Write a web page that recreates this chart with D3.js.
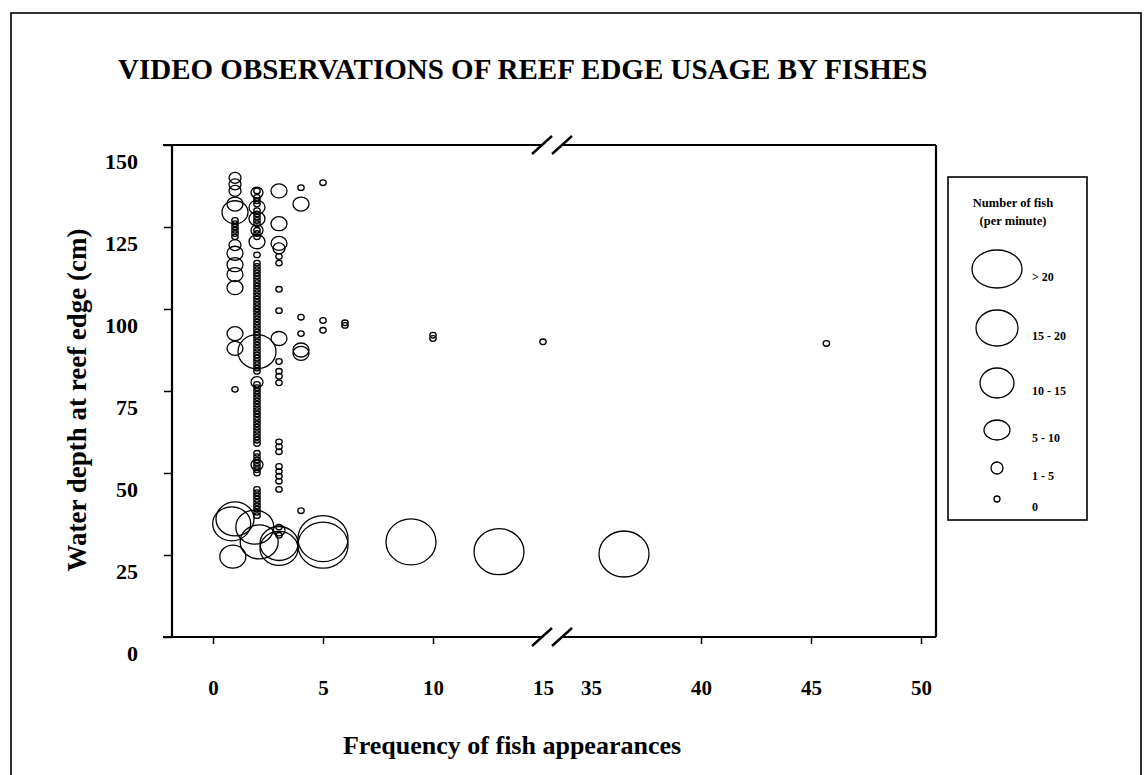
<!DOCTYPE html>
<html>
<head>
<meta charset="utf-8">
<script src="https://cdn.jsdelivr.net/npm/d3@7"></script>
<style>
  html, body { margin: 0; padding: 0; background: #fff; }
  svg { display: block; font-family: 'Liberation Serif', 'Times New Roman', serif; }
</style>
</head>
<body>
<svg id="chart" width="1144" height="775"></svg>
<script>
// size classes used for the bubbles (number of fish per minute)
const sizeClasses = ['0', '1 - 5', '5 - 10', '10 - 15', '15 - 20', '> 20'];
const yTickValues = [0, 25, 50, 75, 100, 125, 150];
const xTicksLow = [0, 5, 10, 15];
const xTicksHigh = [35, 40, 45, 50];

// observations grouped by frequency of fish appearances (depth in cm, size class index)
const depthF1 = [140, 138, 136, 132, 129.5, 127, 126, 125, 124, 123, 122, 119.5, 117, 113.5, 110.5, 106.5, 92.5, 88, 75.5];
const sizeF1 = [1, 1, 1, 2, 3, 0, 0, 0, 0, 0, 0, 1, 2, 2, 2, 2, 2, 2, 0];

const depthF2 = [136, 135.5, 134, 133, 132, 131, 130, 129, 128, 127.5, 127, 126, 124, 124, 123, 122, 120.5, 116.5,
  114, 113, 112, 111, 110, 109, 108, 107, 106, 105, 104, 103, 102, 101, 100, 99, 98, 97, 96, 95, 94, 93, 92, 91, 90,
  89, 88, 87, 87, 86, 85, 84, 83, 82, 81, 77.7, 77, 76, 75, 74, 73, 72, 71, 70, 69, 68, 67, 66, 65, 64, 63, 62, 61,
  60, 59, 56, 55, 54, 53, 52.5, 52, 51, 50, 45, 44, 43, 42, 41, 40, 39, 38, 37];
const sizeF2 = [0, 1, 0, 0, 0, 2, 0, 0, 0, 2, 0, 0, 0, 1, 0, 0, 2, 0,
  0, 0, 0, 0, 0, 0, 0, 0, 0, 0, 0, 0, 0, 0, 0, 0, 0, 0, 0, 0, 0, 0, 0, 0, 0,
  0, 0, 0, 4, 0, 0, 0, 0, 0, 0, 1, 0, 0, 0, 0, 0, 0, 0, 0, 0, 0, 0, 0, 0, 0, 0, 0, 0,
  0, 0, 0, 0, 0, 0, 1, 0, 0, 0, 0, 0, 0, 0, 0, 0, 0, 0, 0];

const depthF3 = [136, 126, 120, 118.5, 116, 114, 106, 99.5, 91, 84, 81, 79.5, 77.5, 59.5, 58, 56.5, 52, 50.5, 49, 47.5, 45, 33.5, 32.5, 31];
const sizeF3 = [2, 2, 2, 1, 0, 0, 0, 0, 2, 0, 0, 0, 0, 0, 0, 0, 0, 0, 0, 0, 0, 0, 1, 0];

const depthF4 = [137, 132, 97.5, 92.5, 87.5, 86.5, 38.5];
const sizeF4 = [0, 2, 0, 0, 2, 2, 0];

const depthF5 = [138.5, 96.5, 93.5];
const sizeF5 = [0, 0, 0];

const depthF6 = [95.8, 95];
const sizeF6 = [0, 0];

const depthF10 = [92, 91];
const sizeF10 = [0, 0];

const depthF15 = [90];
const sizeF15 = [0];

const depthF45 = [89.5];
const sizeF45 = [0];

// the large schools near the reef base
const bigFreq = [0.85, 1, 0.9, 1.9, 2.1, 3, 3, 5, 5, 9, 13, 36.5];
const bigDepth = [34.5, 36, 24.5, 33.5, 29, 28.5, 27, 30, 28, 29, 26, 25.3];
const bigSize = [4, 4, 3, 4, 4, 4, 4, 5, 5, 5, 5, 5];

const columns = [
  { freq: 1, depths: depthF1, sizes: sizeF1 },
  { freq: 2, depths: depthF2, sizes: sizeF2 },
  { freq: 3, depths: depthF3, sizes: sizeF3 },
  { freq: 4, depths: depthF4, sizes: sizeF4 },
  { freq: 5, depths: depthF5, sizes: sizeF5 },
  { freq: 6, depths: depthF6, sizes: sizeF6 },
  { freq: 10, depths: depthF10, sizes: sizeF10 },
  { freq: 15, depths: depthF15, sizes: sizeF15 },
  { freq: 45.7, depths: depthF45, sizes: sizeF45 },
];

const points = [];
columns.forEach(col => {
  col.depths.forEach((d, i) => points.push({ freq: col.freq, depth: d, size: col.sizes[i] }));
});
bigFreq.forEach((f, i) => points.push({ freq: f, depth: bigDepth[i], size: bigSize[i] }));

// layout
const plot = { left: 172, right: 936, top: 145, bottom: 637 };
const breakAt = [542, 562];
const plotRx = [3.2, 6, 8, 13, 19, 25];
const plotRy = [2.8, 5.5, 7, 11.5, 17, 23];
const legendRx = [3, 6, 13, 17, 21, 25];
const legendRy = [3, 6, 10, 15, 18, 19];

const svg = d3.select('#chart');

const xLow = d3.scaleLinear().domain([0, 15]).range([213, 543]);
const xHigh = d3.scaleLinear().domain([35, 50]).range([591, 921]);
const xPos = f => (f < 25 ? xLow(f) : xHigh(f));
const y = d3.scaleLinear().domain([0, 150]).range([plot.bottom, plot.top]);

// outer frame
svg.append('rect')
  .attr('x', 11).attr('y', 13)
  .attr('width', 1130).attr('height', 800)
  .attr('fill', 'none').attr('stroke', '#000').attr('stroke-width', 1.6);

svg.append('text')
  .attr('x', 118).attr('y', 79)
  .attr('font-size', 29).attr('font-weight', 'bold')
  .text('VIDEO OBSERVATIONS OF REEF EDGE USAGE BY FISHES');

// y axis
const yAxis = svg.append('g')
  .attr('transform', `translate(${plot.left},0)`)
  .call(d3.axisLeft(y).tickValues(yTickValues).tickSize(8).tickPadding(26));
yAxis.select('.domain').remove();
yAxis.selectAll('line').attr('stroke-width', 1.5);
yAxis.selectAll('text')
  .attr('font-family', "'Liberation Serif', serif")
  .attr('font-size', 22).attr('font-weight', 'bold').attr('fill', '#000')
  .attr('dy', '0.35em').attr('y', 16);

// x axis, two segments
[[xLow, xTicksLow], [xHigh, xTicksHigh]].forEach(([scale, ticks]) => {
  const g = svg.append('g')
    .attr('transform', `translate(0,${plot.bottom})`)
    .call(d3.axisBottom(scale).tickValues(ticks).tickSize(7).tickPadding(36));
  g.select('.domain').remove();
  g.selectAll('line').attr('stroke-width', 1.5)
    .attr('display', d => (d === 15 || d === 35 ? 'none' : null));
  g.selectAll('text')
    .attr('font-family', "'Liberation Serif', serif")
    .attr('font-size', 21).attr('font-weight', 'bold').attr('fill', '#000');
});

// plot frame with the axis break
const frame = svg.append('g').attr('stroke', '#000').attr('stroke-width', 2.2).attr('fill', 'none');
frame.append('line').attr('x1', plot.left).attr('x2', plot.left).attr('y1', plot.top).attr('y2', plot.bottom);
frame.append('line').attr('x1', plot.right).attr('x2', plot.right).attr('y1', plot.top).attr('y2', plot.bottom);
[plot.top, plot.bottom].forEach(yy => {
  frame.append('line').attr('x1', plot.left - 9).attr('x2', breakAt[0]).attr('y1', yy).attr('y2', yy);
  frame.append('line').attr('x1', breakAt[1]).attr('x2', plot.right).attr('y1', yy).attr('y2', yy);
  breakAt.forEach(bx => {
    frame.append('line')
      .attr('x1', bx - 10).attr('y1', yy + 9)
      .attr('x2', bx + 10).attr('y2', yy - 9)
      .attr('stroke-width', 2.4);
  });
});

// bubbles
svg.append('g')
  .selectAll('ellipse')
  .data(points)
  .join('ellipse')
  .attr('cx', d => xPos(d.freq))
  .attr('cy', d => y(d.depth))
  .attr('rx', d => plotRx[d.size])
  .attr('ry', d => plotRy[d.size])
  .attr('fill', 'none')
  .attr('stroke', '#000')
  .attr('stroke-width', 1.3);

// axis titles
svg.append('text')
  .attr('x', 512).attr('y', 754)
  .attr('text-anchor', 'middle')
  .attr('font-size', 26).attr('font-weight', 'bold')
  .text('Frequency of fish appearances');

svg.append('text')
  .attr('transform', 'translate(86,400) rotate(-90)')
  .attr('text-anchor', 'middle')
  .attr('font-size', 27).attr('font-weight', 'bold')
  .text('Water depth at reef edge (cm)');

// legend
const legend = svg.append('g');
legend.append('rect')
  .attr('x', 948).attr('y', 177)
  .attr('width', 139).attr('height', 343)
  .attr('fill', 'none').attr('stroke', '#000').attr('stroke-width', 1.6);
legend.append('text')
  .attr('x', 1013).attr('y', 207)
  .attr('text-anchor', 'middle').attr('font-size', 12.5).attr('font-weight', 'bold')
  .text('Number of fish');
legend.append('text')
  .attr('x', 1013).attr('y', 225)
  .attr('text-anchor', 'middle').attr('font-size', 12.5).attr('font-weight', 'bold')
  .text('(per minute)');

// stack legend symbols from the largest down with an even gap
const legendItems = sizeClasses.map((label, i) => ({ label, i })).reverse();
let cursor = 250;
legendItems.forEach(item => {
  item.cy = cursor + legendRy[item.i];
  cursor = item.cy + legendRy[item.i] + 22;
});

const li = legend.selectAll('g.item').data(legendItems).join('g').attr('class', 'item');
li.append('ellipse')
  .attr('cx', 997).attr('cy', d => d.cy)
  .attr('rx', d => legendRx[d.i]).attr('ry', d => legendRy[d.i])
  .attr('fill', 'none').attr('stroke', '#000').attr('stroke-width', 1.3);
li.append('text')
  .attr('x', 1032).attr('y', d => d.cy + 12)
  .attr('font-size', 12).attr('font-weight', 'bold')
  .text(d => d.label);
</script>
</body>
</html>
